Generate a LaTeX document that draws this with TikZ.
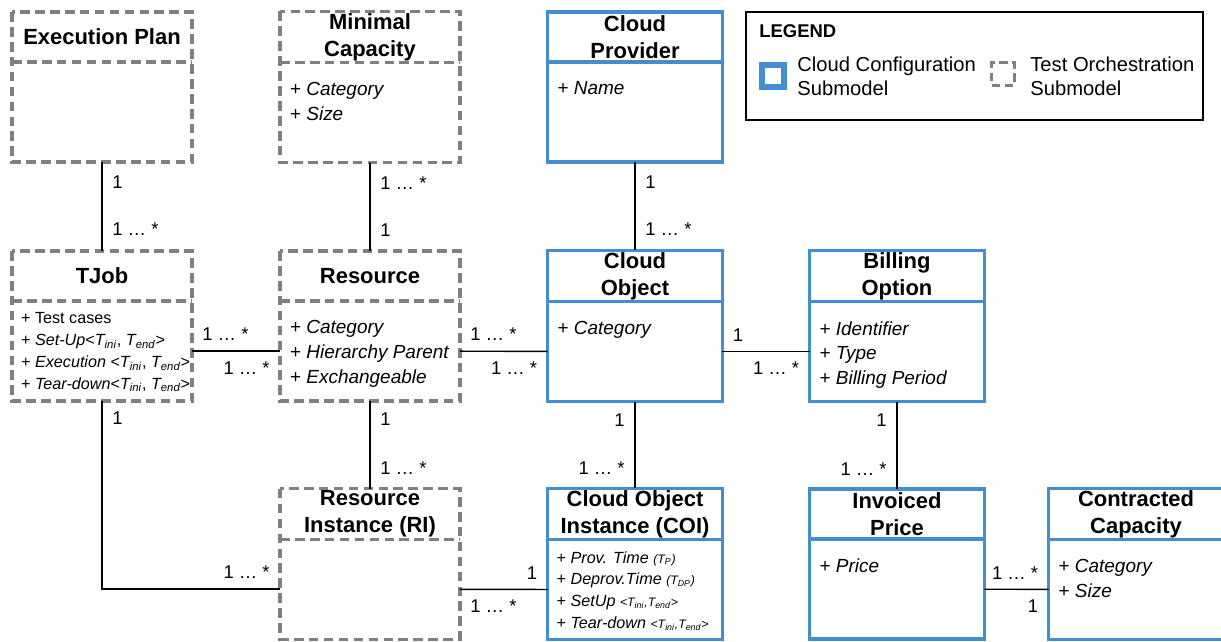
\documentclass[tikz,border=0pt]{standalone}
\usepackage{fontspec}
\setmainfont{Liberation Sans}
\usetikzlibrary{positioning}

\definecolor{cfgblue}{RGB}{66,142,206}
\definecolor{orchgray}{RGB}{128,128,128}

\newcommand{\tsub}[1]{\textit{T\textsubscript{#1}}}
\newcommand{\many}{1 … *}
\newcommand{\smallit}{\fontsize{7}{8}\selectfont\itshape}

\begin{document}
\begin{tikzpicture}[x=0.02cm,y=-0.02cm,
  head/.style={minimum height=1cm,align=center,inner sep=1pt,outer sep=0pt,
    font=\fontsize{12.5}{15.5}\selectfont\bfseries},
  body/.style={minimum height=2cm,outer sep=0pt},
  orch/.style={minimum width=3.6cm},
  conf/.style={minimum width=3.5cm},
  orchline/.style={draw=orchgray,line width=1.8pt,dash pattern=on 5.5pt off 3pt},
  confline/.style={draw=cfgblue,line width=1.8pt},
  attr/.style={anchor=north west,align=left,inner sep=0pt,
    font=\fontsize{10.8}{14.2}\selectfont},
  attrsm/.style={attr,font=\fontsize{9.2}{12.4}\selectfont},
  mult/.style={inner sep=5.5pt,font=\fontsize{10.5}{12}\selectfont},
  assoc/.style={draw,line width=0.8pt}]

  \fill[white] (0,0) rectangle (1221,642);
  \useasboundingbox (0,0) rectangle (1221,642);

  % test orchestration submodel
  \node[head,orch] (ep) at (102,37) {Execution Plan};
  \node[body,orch] (ep-b) [below=0pt of ep] {};
  \node[head,orch] (mc) at (370,37) {Minimal\\Capacity};
  \node[body,orch] (mc-b) [below=0pt of mc] {};
  \node[head,orch] (tj) at (102,276) {TJob};
  \node[body,orch] (tj-b) [below=0pt of tj] {};
  \node[head,orch] (rs) at (370,276) {Resource};
  \node[body,orch] (rs-b) [below=0pt of rs] {};
  \node[head,orch] (ri) at (370,514) {Resource\\Instance (RI)};
  \node[body,orch] (ri-b) [below=0pt of ri] {};

  % cloud configuration submodel
  \node[head,conf] (cp) at (635,37) {Cloud\\Provider};
  \node[body,conf] (cp-b) [below=0pt of cp] {};
  \node[head,conf] (co) at (635,276) {Cloud\\Object};
  \node[body,conf] (co-b) [below=0pt of co] {};
  \node[head,conf] (bo) at (897,276) {Billing\\Option};
  \node[body,conf] (bo-b) [below=0pt of bo] {};
  \node[head,conf] (coi) at (635,514) {Cloud Object\\Instance (COI)};
  \node[body,conf] (coi-b) [below=0pt of coi] {};
  \node[head,conf] (ip) at (897,514) {Invoiced\\Price};
  \node[body,conf] (ip-b) [below=0pt of ip] {};
  \node[head,conf] (cc) at (1136,514) {Contracted\\Capacity};
  \node[body,conf] (cc-b) [below=0pt of cc] {};

  \foreach \c in {ep,mc,tj,rs,ri}
    \draw[orchline] (\c.north west) rectangle (\c-b.south east)
      (\c.south west) -- (\c.south east);
  \foreach \c in {cp,co,bo,coi,ip,cc}
    \draw[confline] (\c.north west) rectangle (\c-b.south east)
      (\c.south west) -- (\c.south east);

  % attributes
  \node[attr] (mc-a) at ([shift={(5.5pt,-11pt)}]mc-b.north west)
    {+ \textit{Category}\\+ \textit{Size}};
  \node[attrsm] (tj-a) at ([shift={(5pt,-6.5pt)}]tj-b.north west)
    {+ Test cases\\
     + \textit{Set-Up}<\tsub{ini}, \tsub{end}>\\
     + \textit{Execution} <\tsub{ini}, \tsub{end}>\\
     + \textit{Tear-down}<\tsub{ini}, \tsub{end}>};
  \node[attr] (rs-a) at ([shift={(5.5pt,-11pt)}]rs-b.north west)
    {+ \textit{Category}\\+ \textit{Hierarchy Parent}\\+ \textit{Exchangeable}};
  \node[attr] (cp-a) at ([shift={(5.5pt,-11pt)}]cp-b.north west)
    {+ \textit{Name}};
  \node[attr] (co-a) at ([shift={(5.5pt,-11pt)}]co-b.north west)
    {+ \textit{Category}};
  \node[attr] (bo-a) at ([shift={(5.5pt,-11pt)}]bo-b.north west)
    {+ \textit{Identifier}\\+ \textit{Type}\\+ \textit{Billing Period}};
  \node[attrsm] (coi-a) at ([shift={(5pt,-6.5pt)}]coi-b.north west)
    {+ \textit{Prov. Time} {\smallit(T\textsubscript{P})}\\
     + \textit{Deprov.Time} {\smallit(T\textsubscript{DP})}\\
     + \textit{SetUp} {\smallit<T\textsubscript{ini},T\textsubscript{end}>}\\
     + \textit{Tear-down} {\smallit<T\textsubscript{ini},T\textsubscript{end}>}};
  \node[attr] (ip-a) at ([shift={(5.5pt,-11pt)}]ip-b.north west)
    {+ \textit{Price}};
  \node[attr] (cc-a) at ([shift={(5.5pt,-11pt)}]cc-b.north west)
    {+ \textit{Category}\\+ \textit{Size}};

  % associations
  \path (ep-b) edge[assoc] node[mult,pos=.23,right] {1}
                           node[mult,pos=.76,right] {\many} (tj)
        (mc-b) edge[assoc] node[mult,pos=.23,right] {\many}
                           node[mult,pos=.76,right] {1} (rs)
        (cp-b) edge[assoc] node[mult,pos=.23,right] {1}
                           node[mult,pos=.76,right] {\many} (co)
        (tj-b) edge[assoc] node[mult,pos=0,above right] {\many}
                           node[mult,pos=1,below left] {\many} (rs-b)
        (rs-b) edge[assoc] node[mult,pos=0,above right] {\many}
                           node[mult,pos=1,below left] {\many} (co-b)
        (co-b) edge[assoc] node[mult,pos=0,above right] {1}
                           node[mult,pos=1,below left] {\many} (bo-b)
        (rs-b) edge[assoc] node[mult,pos=.21,right] {1}
                           node[mult,pos=.77,right] {\many} (ri)
        (co-b) edge[assoc] node[mult,pos=.21,left] {1}
                           node[mult,pos=.77,left] {\many} (coi)
        (bo-b) edge[assoc] node[mult,pos=.21,left] {1}
                           node[mult,pos=.77,left] {\many} (ip)
        (ri-b) edge[assoc] node[mult,pos=0,below right] {\many}
                           node[mult,pos=1,above left] {1} (coi-b)
        (ip-b) edge[assoc] node[mult,pos=1,above left] {\many}
                           node[mult,pos=1,below left] {1} (cc-b);
  \draw[assoc] (tj-b.south) |- node[mult,pos=0,below right] {1}
                               node[mult,pos=1,above left] {\many} (ri-b.west);

  % legend
  \node[draw,line width=0.8pt,minimum width=9.14cm,minimum height=2.16cm,
    outer sep=0pt] (legend) at (974.5,66) {};
  \node[anchor=west,inner sep=0pt,font=\fontsize{10.5}{12}\selectfont\bfseries]
    (legend-t) at (759,31) {LEGEND};
  \node[draw=cfgblue,line width=3pt,minimum size=0.44cm,inner sep=0pt]
    (key-conf) at (773,76) {};
  \node[anchor=west,align=left,inner sep=0pt,font=\fontsize{11.5}{13.7}\selectfont]
    (key-conf-t) at (797,76) {Cloud Configuration\\Submodel};
  \node[draw=orchgray,line width=2.2pt,dash pattern=on 5pt off 2.5pt,
    minimum size=0.46cm,inner sep=0pt] (key-orch) at (1003,74) {};
  \node[anchor=west,align=left,inner sep=0pt,font=\fontsize{11.5}{13.7}\selectfont]
    (key-orch-t) at (1030,76) {Test Orchestration\\Submodel};
\end{tikzpicture}
\end{document}
